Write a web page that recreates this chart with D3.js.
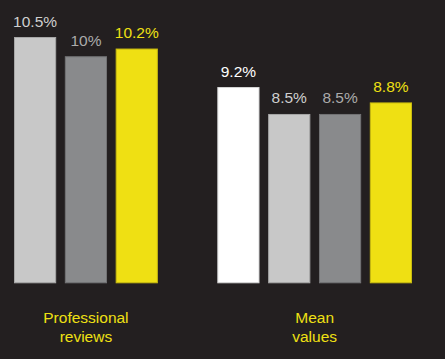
<!DOCTYPE html>
<html>
<head>
<meta charset="utf-8">
<script src="https://cdn.jsdelivr.net/npm/d3@7"></script>
<style>
  html, body { margin: 0; padding: 0; background: #231f20; }
  svg { display: block; }
</style>
</head>
<body>
<script>
// ---- data ----
const groups = ["Professional reviews", "Mean values"];
const groupLines = [["Professional", "reviews"], ["Mean", "values"]];
const proValues = [10.5, 10, 10.2];
const proLabels = ["10.5%", "10%", "10.2%"];
const meanValues = [9.2, 8.5, 8.5, 8.8];
const meanLabels = ["9.2%", "8.5%", "8.5%", "8.8%"];

// ---- styles ----
const proColors = ["#c8c8c8", "#898a8c", "#efe013"];
const meanColors = ["#ffffff", "#c8c8c8", "#898a8c", "#efe013"];
const proTextColors = ["#cfcfcf", "#ababab", "#efe013"];
const meanTextColors = ["#ffffff", "#cfcfcf", "#ababab", "#efe013"];

const W = 445, H = 359;
const svg = d3.select("body").append("svg").attr("width", W).attr("height", H);
svg.append("rect").attr("width", W).attr("height", H).attr("fill", "#231f20");

const bars = [];
proValues.forEach((v, i) => bars.push({key: "p" + i, group: 0, value: v, label: proLabels[i], fill: proColors[i], tc: proTextColors[i]}));
meanValues.forEach((v, i) => bars.push({key: "m" + i, group: 1, value: v, label: meanLabels[i], fill: meanColors[i], tc: meanTextColors[i]}));

const domain = [...bars.filter(b => b.group === 0).map(b => b.key), "__gap__", ...bars.filter(b => b.group === 1).map(b => b.key)];
const x = d3.scaleBand().domain(domain).range([14, 412]).paddingInner(0.17).paddingOuter(0);
const y = d3.scaleLinear().domain([4.1, 10.5]).range([283.3, 37]);

svg.selectAll("rect.bar").data(bars).join("rect")
  .attr("class", "bar")
  .attr("x", d => x(d.key) + 0.5)
  .attr("y", d => y(d.value) + 0.5)
  .attr("width", x.bandwidth() - 1)
  .attr("height", d => y.range()[0] - y(d.value) - 1)
  .attr("fill", d => d.fill)
  .attr("stroke", d => d3.color(d.fill).darker(0.5))
  .attr("stroke-width", 1);

svg.selectAll("text.val").data(bars).join("text")
  .attr("class", "val")
  .attr("x", d => x(d.key) + x.bandwidth() / 2)
  .attr("y", d => y(d.value) - 10.5)
  .attr("text-anchor", "middle")
  .attr("fill", d => d.tc)
  .style("font-family", "'Liberation Sans', Arial, sans-serif")
  .style("font-size", "15.5px")
  .text(d => d.label);

groups.forEach((g, gi) => {
  const keys = bars.filter(b => b.group === gi).map(b => b.key);
  const cx = (x(keys[0]) + x(keys[keys.length - 1]) + x.bandwidth()) / 2;
  const t = svg.append("text")
    .attr("text-anchor", "middle")
    .attr("fill", "#efe013")
    .style("font-family", "'Liberation Sans', Arial, sans-serif")
    .style("font-size", "15.5px");
  groupLines[gi].forEach((line, li) => {
    t.append("tspan").attr("x", cx).attr("y", 323.3 + li * 19).text(line);
  });
});
</script>
</body>
</html>
